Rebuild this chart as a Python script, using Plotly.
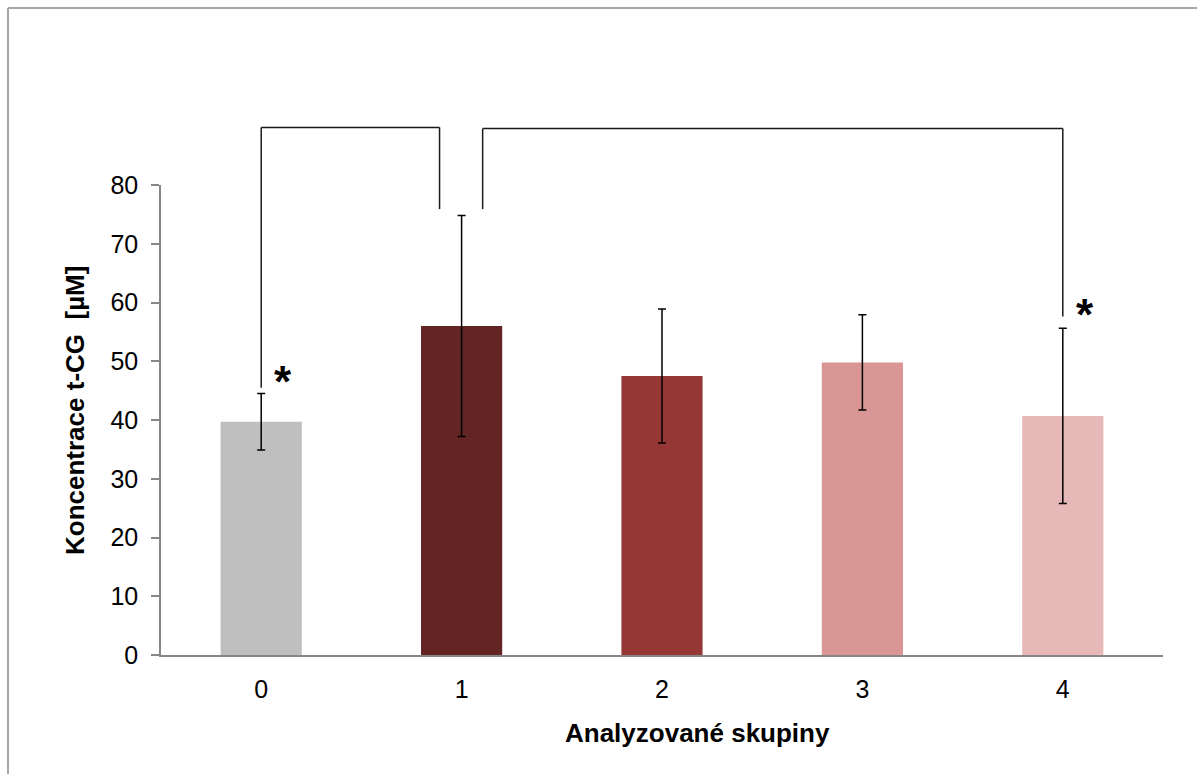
import plotly.graph_objects as go

# Group labels, mean concentrations and error half-widths
groups = ["0", "1", "2", "3", "4"]
means = [39.7, 56.0, 47.5, 49.8, 40.7]
errors = [4.8, 18.8, 11.4, 8.1, 14.9]
bar_colors = ["#BFBFBF", "#632523", "#953735", "#D99694", "#E6B9B8"]

y_ticks = [0, 10, 20, 30, 40, 50, 60, 70, 80]

# Significance brackets: (x_left, x_right, y_top, y_left_end, y_right_end)
brackets = [
    (0.0, 0.89, 89.8, 45.5, 75.9),
    (1.105, 4.0, 89.6, 75.9, 57.6),
]
# Significance stars: (x, y)
stars = [(0.11, 46.6), (4.11, 57.9)]

W, H = 1197, 774
L, R, T, B = 161, 34, 185, 119
X_RANGE = (-0.5, 4.5)
Y_RANGE = (0, 80)

FONT = "Liberation Sans, Arial, sans-serif"


def xp(x):
    return (x - X_RANGE[0]) / (X_RANGE[1] - X_RANGE[0])


def yp(y):
    return (y - Y_RANGE[0]) / (Y_RANGE[1] - Y_RANGE[0])


fig = go.Figure(
    go.Bar(
        x=list(range(len(groups))),
        y=means,
        marker=dict(color=bar_colors, line=dict(width=0)),
        error_y=dict(type="data", array=errors, visible=True,
                     color="#000000", thickness=1.5, width=4),
        width=0.405,
    )
)

shapes = []
for x0, x1, ytop, yl, yr in brackets:
    pts = [(x0, yl), (x0, ytop), (x1, ytop), (x1, yr)]
    for (ax, ay), (bx, by) in zip(pts[:-1], pts[1:]):
        shapes.append(dict(type="line", xref="paper", yref="paper",
                           x0=xp(ax), y0=yp(ay), x1=xp(bx), y1=yp(by),
                           line=dict(color="#1a1a1a", width=1.5)))

# Outer chart frame (top and left edges)
pw, ph = W - L - R, H - T - B
fx = (8 - L) / pw
fy = (H - B - 8) / ph
shapes.append(dict(type="line", xref="paper", yref="paper",
                   x0=fx, y0=fy, x1=(W + 5 - L) / pw, y1=fy,
                   line=dict(color="#A6A6A6", width=2)))
shapes.append(dict(type="line", xref="paper", yref="paper",
                   x0=fx, y0=fy, x1=fx, y1=(H - B - H - 5) / ph,
                   line=dict(color="#A6A6A6", width=2)))

annotations = []
for sx, sy in stars:
    annotations.append(dict(x=sx, y=sy, xref="x", yref="y", text="<b>*</b>",
                            showarrow=False, xanchor="center", yanchor="middle",
                            font=dict(family=FONT, size=44, color="#000000")))

annotations.append(dict(x=(697 - L) / pw, y=(H - B - 733) / ph, xref="paper", yref="paper",
                        text="<b>Analyzované skupiny</b>", showarrow=False,
                        xanchor="center", yanchor="middle",
                        font=dict(family=FONT, size=26, color="#000000")))
annotations.append(dict(x=(75 - L) / pw, y=(H - B - 411) / ph, xref="paper", yref="paper",
                        text="<b>Koncentrace t-CG  [µM]</b>", showarrow=False, textangle=-90,
                        xanchor="center", yanchor="middle",
                        font=dict(family=FONT, size=26, color="#000000")))

fig.update_layout(
    width=W, height=H,
    margin=dict(l=L, r=R, t=T, b=B),
    paper_bgcolor="white", plot_bgcolor="white",
    showlegend=False,
    shapes=shapes,
    annotations=annotations,
    font=dict(family=FONT, size=25, color="#000000"),
    xaxis=dict(range=list(X_RANGE), tickmode="array",
               tickvals=list(range(len(groups))), ticktext=groups,
               showline=True, linecolor="#868686", linewidth=1.5,
               ticks="outside", ticklen=11, tickcolor="rgba(0,0,0,0)",
               showgrid=False, zeroline=False, fixedrange=True),
    yaxis=dict(range=list(Y_RANGE), tickmode="array", tickvals=y_ticks,
               showline=True, linecolor="#868686", linewidth=1.5,
               ticks="outside", ticklen=8, tickcolor="#868686", tickwidth=1.5,
               ticklabelstandoff=8,
               showgrid=False, zeroline=False, fixedrange=True),
)

fig.write_html("out.html")
